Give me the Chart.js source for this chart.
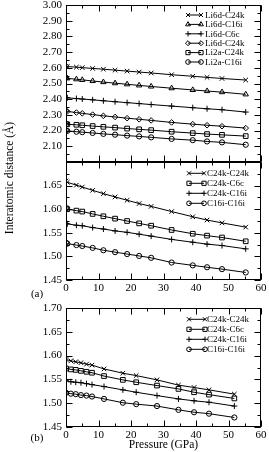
<!DOCTYPE html>
<html><head><meta charset="utf-8">
<script src="https://cdn.jsdelivr.net/npm/chart.js@4/dist/chart.umd.min.js"></script>
<style>
html,body{margin:0;padding:0;background:#fff;}
body{width:269px;height:452px;position:relative;overflow:hidden;font-family:"Liberation Serif","Times New Roman",serif;}
canvas{position:absolute;left:0;}
.lbl{position:absolute;font-size:11px;color:#000;white-space:nowrap;line-height:1;transform:translate(-50%,-50%);}
</style></head><body>
<canvas id="c1" width="269" height="170" style="top:0px"></canvas>
<canvas id="c2" width="269" height="150" style="top:150px"></canvas>
<canvas id="c3" width="269" height="157" style="top:295px"></canvas>
<div class="lbl" style="left:10px;top:178px;transform:translate(-50%,-50%) rotate(-90deg);font-size:11.5px;">Interatomic distance (Å)</div>
<div class="lbl" style="left:37px;top:293px;">(a)</div>
<div class="lbl" style="left:37px;top:437px;">(b)</div>
<script>
// ---------- data ----------
const pressureA = [0, 0.4, 3.2, 5, 8.2, 11.5, 15.1, 18.8, 22.5, 26.2, 32.5, 39, 43.4, 48, 55.3];
const pressureB = [0, 1.5, 3, 4.6, 6.3, 8, 11.7, 17.5, 21.6, 28, 34.6, 39.4, 44, 51.8];

const labelsTop = ['Li6d-C24k', 'Li6d-C16i', 'Li6d-C6c', 'Li6d-C24k', 'Li2a-C24k', 'Li2a-C16i'];
const li6dC24kA = [2.610, 2.608, 2.604, 2.601, 2.596, 2.591, 2.585, 2.579, 2.573, 2.567, 2.556, 2.546, 2.539, 2.532, 2.522];
const li6dC16i  = [2.535, 2.533, 2.527, 2.523, 2.516, 2.509, 2.502, 2.495, 2.488, 2.481, 2.470, 2.459, 2.452, 2.445, 2.431];
const li6dC6c   = [2.410, 2.409, 2.404, 2.401, 2.396, 2.390, 2.384, 2.378, 2.372, 2.366, 2.356, 2.346, 2.339, 2.333, 2.318];
const li6dC24kB = [2.325, 2.322, 2.315, 2.310, 2.302, 2.294, 2.287, 2.279, 2.272, 2.265, 2.252, 2.241, 2.234, 2.228, 2.216];
const li2aC24k  = [2.242, 2.240, 2.237, 2.234, 2.229, 2.224, 2.219, 2.213, 2.208, 2.203, 2.193, 2.184, 2.178, 2.173, 2.165];
const li2aC16i  = [2.200, 2.198, 2.193, 2.190, 2.185, 2.179, 2.174, 2.168, 2.163, 2.157, 2.147, 2.139, 2.131, 2.125, 2.110];

const labelsC = ['C24k-C24k', 'C24k-C6c', 'C24k-C16i', 'C16i-C16i'];
const aC24kC24k = [1.660, 1.657, 1.651, 1.647, 1.640, 1.633, 1.626, 1.619, 1.612, 1.606, 1.595, 1.584, 1.577, 1.571, 1.562];
const aC24kC6c  = [1.602, 1.600, 1.597, 1.595, 1.590, 1.585, 1.580, 1.575, 1.570, 1.565, 1.556, 1.548, 1.544, 1.540, 1.532];
const aC24kC16i = [1.570, 1.569, 1.566, 1.565, 1.561, 1.558, 1.554, 1.551, 1.547, 1.543, 1.536, 1.530, 1.526, 1.523, 1.516];
const aC16iC16i = [1.529, 1.527, 1.524, 1.522, 1.518, 1.513, 1.509, 1.505, 1.501, 1.497, 1.487, 1.481, 1.477, 1.473, 1.466];

const bC24kC24k = [1.592, 1.589, 1.587, 1.585, 1.582, 1.580, 1.572, 1.563, 1.558, 1.549, 1.538, 1.533, 1.528, 1.519];
const bC24kC6c  = [1.573, 1.571, 1.570, 1.568, 1.566, 1.564, 1.557, 1.549, 1.544, 1.537, 1.530, 1.523, 1.518, 1.510];
const bC24kC16i = [1.547, 1.545, 1.544, 1.543, 1.541, 1.539, 1.535, 1.528, 1.523, 1.516, 1.509, 1.505, 1.502, 1.494];
const bC16iC16i = [1.522, 1.520, 1.519, 1.517, 1.516, 1.514, 1.509, 1.501, 1.498, 1.494, 1.486, 1.481, 1.478, 1.470];

const xTicksMajor = 10, xTicksMinor = 5;
// ---------- styling ----------
const FONT = '"Liberation Serif", "Times New Roman", serif';
const markers = {
  cross6: {pointStyle: 'crossRot', radius: 3.2},
  tri:    {pointStyle: 'triangle', radius: 3.1},
  plus:   {pointStyle: 'cross', radius: 3},
  dia:    {pointStyle: 'rectRot', radius: 2.8},
  sq:     {pointStyle: 'rect', radius: 3.3},
  circ:   {pointStyle: 'circle', radius: 2.6}
};
function ds(label, xs, ys, m) {
  return {
    label,
    data: xs.map((x, i) => ({x, y: ys[i]})),
    borderColor: '#000', borderWidth: 1,
    pointStyle: m.pointStyle, pointRadius: m.radius,
    pointBorderColor: '#000', pointBackgroundColor: 'rgba(0,0,0,0)', pointBorderWidth: 1,
    tension: 0, fill: false
  };
}

const inwardTicks = {
  id: 'inwardTicks',
  afterDraw(chart, args, o) {
    const {ctx, chartArea: a} = chart;
    const x = chart.scales.x, y = chart.scales.y;
    ctx.save();
    ctx.strokeStyle = '#000'; ctx.lineWidth = 1;
    const L = Math.round(a.left) + 0.5, R = Math.round(a.right) - 0.5;
    const T = Math.round(a.top) + 0.5, B = Math.round(a.bottom) - 0.5;
    ctx.strokeRect(L, T, R - L, B - T);
    const each = (min, max, step, fn) => {
      for (let k = 0; ; k++) { const v = min + k * step; if (v > max + 1e-9) break; fn(v); }
    };
    ctx.beginPath();
    [[o.xMinor, 3], [o.xMajor, 6]].forEach(([st, len]) => each(x.min, x.max, st, v => {
      const px = Math.round(x.getPixelForValue(v)) + 0.5;
      ctx.moveTo(px, B); ctx.lineTo(px, B - len);
      ctx.moveTo(px, T); ctx.lineTo(px, T + len);
    }));
    [[o.yMinor, 3], [o.yMajor, 6]].forEach(([st, len]) => each(y.min, y.max, st, v => {
      const py = Math.round(y.getPixelForValue(v)) + 0.5;
      ctx.moveTo(L, py); ctx.lineTo(L + len, py);
      ctx.moveTo(R, py); ctx.lineTo(R - len, py);
    }));
    ctx.stroke();
    ctx.restore();
  }
};

const legendBox = {
  id: 'legendBox',
  afterDraw(chart, args, o) {
    const ctx = chart.ctx;
    ctx.save();
    chart.data.datasets.forEach((d, i) => {
      const yy = o.y0 + i * o.dy;
      ctx.strokeStyle = '#000'; ctx.fillStyle = 'rgba(0,0,0,0)'; ctx.lineWidth = 1;
      ctx.beginPath(); ctx.moveTo(o.x1, yy); ctx.lineTo(o.x2, yy); ctx.stroke();
      const po = {pointStyle: d.pointStyle, radius: d.pointRadius * 0.9, rotation: 0, borderWidth: 1};
      Chart.helpers.drawPoint(ctx, po, o.x1, yy);
      Chart.helpers.drawPoint(ctx, po, o.x2, yy);
      ctx.fillStyle = '#000';
      ctx.font = o.size + 'px ' + FONT;
      ctx.textBaseline = 'middle'; ctx.textAlign = 'left';
      ctx.fillText(d.label, o.xt, yy + 0.5);
    });
    ctx.restore();
  }
};

function makeChart(id, datasets, cfg) {
  return new Chart(document.getElementById(id), {
    type: 'line',
    data: {datasets},
    plugins: [inwardTicks, legendBox],
    options: {
      responsive: false, animation: false,
      layout: {padding: {left: 0, right: 8, top: cfg.top, bottom: cfg.bottom}},
      plugins: {
        legend: {display: false}, tooltip: {enabled: false},
        inwardTicks: {xMajor: xTicksMajor, xMinor: xTicksMinor, yMajor: cfg.yMajor, yMinor: cfg.yMajor / 2},
        legendBox: cfg.legend
      },
      scales: {
        x: {
          type: 'linear', min: 0, max: 60, display: cfg.showX,
          grid: {display: false, drawTicks: false}, border: {display: false},
          ticks: {stepSize: xTicksMajor, color: '#000', font: {family: FONT, size: 11}, padding: 2, maxRotation: 0, autoSkip: false},
          title: {display: !!cfg.xTitle, text: cfg.xTitle || '', color: '#000', font: {family: FONT, size: 11.5}, padding: 0},
          afterFit(s) { s.height = cfg.xHeight || 0; s.paddingLeft = 0; s.paddingRight = 0; }
        },
        y: {
          type: 'linear', min: cfg.yMin, max: cfg.yMax,
          grid: {display: false, drawTicks: false}, border: {display: false},
          ticks: {stepSize: cfg.yMajor, color: '#000', font: {family: FONT, size: 11}, padding: 4, autoSkip: false,
            callback: v => (cfg.hide !== undefined && Math.abs(v - cfg.hide) < 1e-6) ? '' : Number(v).toFixed(2)},
          afterFit(s) { s.width = 66; s.paddingTop = 0; s.paddingBottom = 0; }
        }
      }
    }
  });
}

makeChart('c1', [
  ds(labelsTop[0], pressureA, li6dC24kA, markers.cross6),
  ds(labelsTop[1], pressureA, li6dC16i, markers.tri),
  ds(labelsTop[2], pressureA, li6dC6c, markers.plus),
  ds(labelsTop[3], pressureA, li6dC24kB, markers.dia),
  ds(labelsTop[4], pressureA, li2aC24k, markers.sq),
  ds(labelsTop[5], pressureA, li2aC16i, markers.circ)
], {top: 5, bottom: 8, showX: false, yMin: 2.0, yMax: 3.0, yMajor: 0.1, hide: 2.0,
    legend: {x1: 188, x2: 201, xt: 205, y0: 15, dy: 9.4, size: 9}});

makeChart('c2', [
  ds(labelsC[0], pressureA, aC24kC24k, markers.cross6),
  ds(labelsC[1], pressureA, aC24kC6c, markers.sq),
  ds(labelsC[2], pressureA, aC24kC16i, markers.plus),
  ds(labelsC[3], pressureA, aC16iC16i, markers.circ)
], {top: 12, bottom: 0, xHeight: 20, showX: true, yMin: 1.45, yMax: 1.70, yMajor: 0.05, hide: 1.70,
    legend: {x1: 189, x2: 204, xt: 207, y0: 23.3, dy: 10, size: 9}});

makeChart('c3', [
  ds(labelsC[0], pressureB, bC24kC24k, markers.cross6),
  ds(labelsC[1], pressureB, bC24kC6c, markers.sq),
  ds(labelsC[2], pressureB, bC24kC16i, markers.plus),
  ds(labelsC[3], pressureB, bC16iC16i, markers.circ)
], {top: 13, bottom: 0, xHeight: 25, showX: true, yMin: 1.45, yMax: 1.70, yMajor: 0.05, xTitle: 'Pressure (GPa)',
    legend: {x1: 189, x2: 205, xt: 207, y0: 24.3, dy: 10, size: 9}});
</script>
</body></html>
